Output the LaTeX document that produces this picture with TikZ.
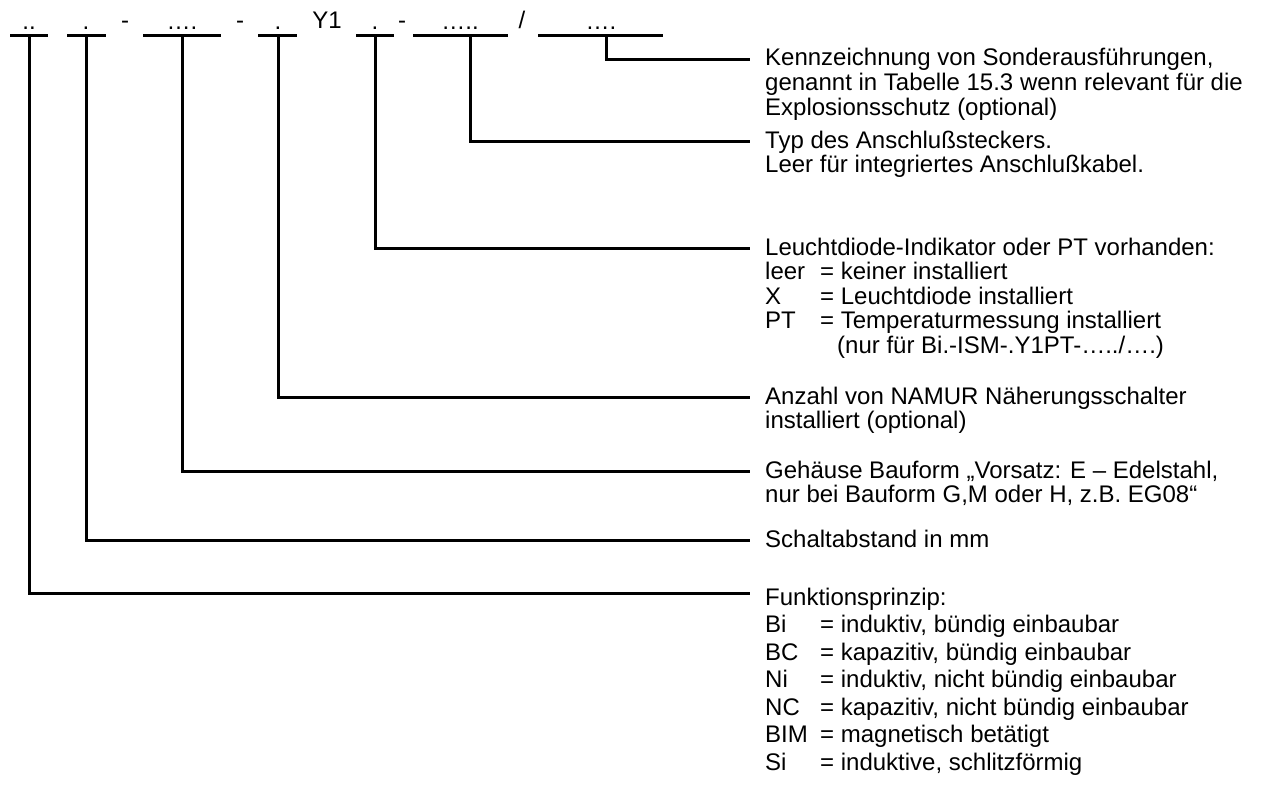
\documentclass[tikz,border=0pt]{standalone}
\usepackage{fontspec}
\setmainfont{Liberation Sans}
\newcommand\mlines[2][1]{{\renewcommand\arraystretch{#1}\begin{tabular}[t]{@{}l@{}}#2\end{tabular}}}
\newcommand\tabkey[1]{\makebox[55pt][l]{#1}}
\begin{document}
\begin{tikzpicture}[x=1pt,y=-1pt,
  ln/.style={line width=3pt,line join=miter},
  lbl/.style={anchor=base west,inner sep=0pt,font=\fontsize{24pt}{24.5pt}\selectfont},
  top/.style={anchor=base,inner sep=0pt,font=\fontsize{24pt}{24.5pt}\selectfont}]
\useasboundingbox (0,0) rectangle (1262,787);
% top row
\foreach \a/\b/\n in {10/48/s1,67/106/s2,143/221/s3,258/297/s4,356/394/s5,413/508/s6,538/663/s7}{
  \coordinate (\n a) at (\a,35); \coordinate (\n b) at (\b,35);
  \draw[ln] (\n a) -- (\n b);
}
\node[top] (d1) at (29,29) {..};
\node[top] (d2) at (86,29) {.};
\node[top] (h1) at (125,28) {-};
\node[top] (d3) at (182,29) {….};
\node[top] (h2) at (240,28) {-};
\node[top] (d4) at (278,29) {.};
\node[top] (y1) at (327,28) {Y1};
\node[top] (d5) at (375,29) {.};
\node[top] (h3) at (402,28) {-};
\node[top] (d6) at (460,29) {…..};
\node[top] (sl) at (522,28) {/};
\node[top] (d7) at (601,29) {….};
% connector starts
\coordinate (v1) at (29,35);
\coordinate (v2) at (86,35);
\coordinate (v3) at (182,35);
\coordinate (v4) at (278,35);
\coordinate (v5) at (375,35);
\coordinate (v6) at (470,35);
\coordinate (v7) at (606,35);
% connector ends
\coordinate (e7) at (750,59);
\coordinate (e6) at (750,141);
\coordinate (e5) at (750,248);
\coordinate (e4) at (750,397);
\coordinate (e3) at (750,471);
\coordinate (e2) at (750,540);
\coordinate (e1) at (750,593);
\foreach \i in {1,...,7}{ \draw[ln] (v\i) |- (e\i); }
% labels
\node[lbl] (t7) at (765,65) {\mlines[1.04]{Kennzeichnung von Sonderausführungen,\\genannt in Tabelle 15.3 wenn relevant für die\\Explosionsschutz (optional)}};
\node[lbl] (t6) at (765,148) {\mlines{Typ des Anschlußsteckers.\\Leer für integriertes Anschlußkabel.}};
\node[lbl] (t5) at (765,255) {\mlines[0.98]{Leuchtdiode-Indikator oder PT vorhanden:\\
\tabkey{leer}= keiner installiert\\
\tabkey{X}= Leuchtdiode installiert\\
\tabkey{PT}= Temperaturmessung installiert\\
\hspace*{72pt}(nur für Bi.-ISM-.Y1PT-…../….)}};
\node[lbl] (t4) at (765,404) {\mlines{Anzahl von NAMUR Näherungsschalter\\installiert (optional)}};
\node[lbl] (t3) at (765,478) {\mlines{Gehäuse Bauform „Vorsatz: E – Edelstahl,\\nur bei Bauform G,M oder H, z.B. EG08“}};
\node[lbl] (t2) at (765,547) {Schaltabstand in mm};
\node[lbl] (t1) at (765,605) {\mlines[1.125]{Funktionsprinzip:\\
\tabkey{Bi}= induktiv, bündig einbaubar\\
\tabkey{BC}= kapazitiv, bündig einbaubar\\
\tabkey{Ni}= induktiv, nicht bündig einbaubar\\
\tabkey{NC}= kapazitiv, nicht bündig einbaubar\\
\tabkey{BIM}= magnetisch betätigt\\
\tabkey{Si}= induktive, schlitzförmig}};
\end{tikzpicture}
\end{document}
